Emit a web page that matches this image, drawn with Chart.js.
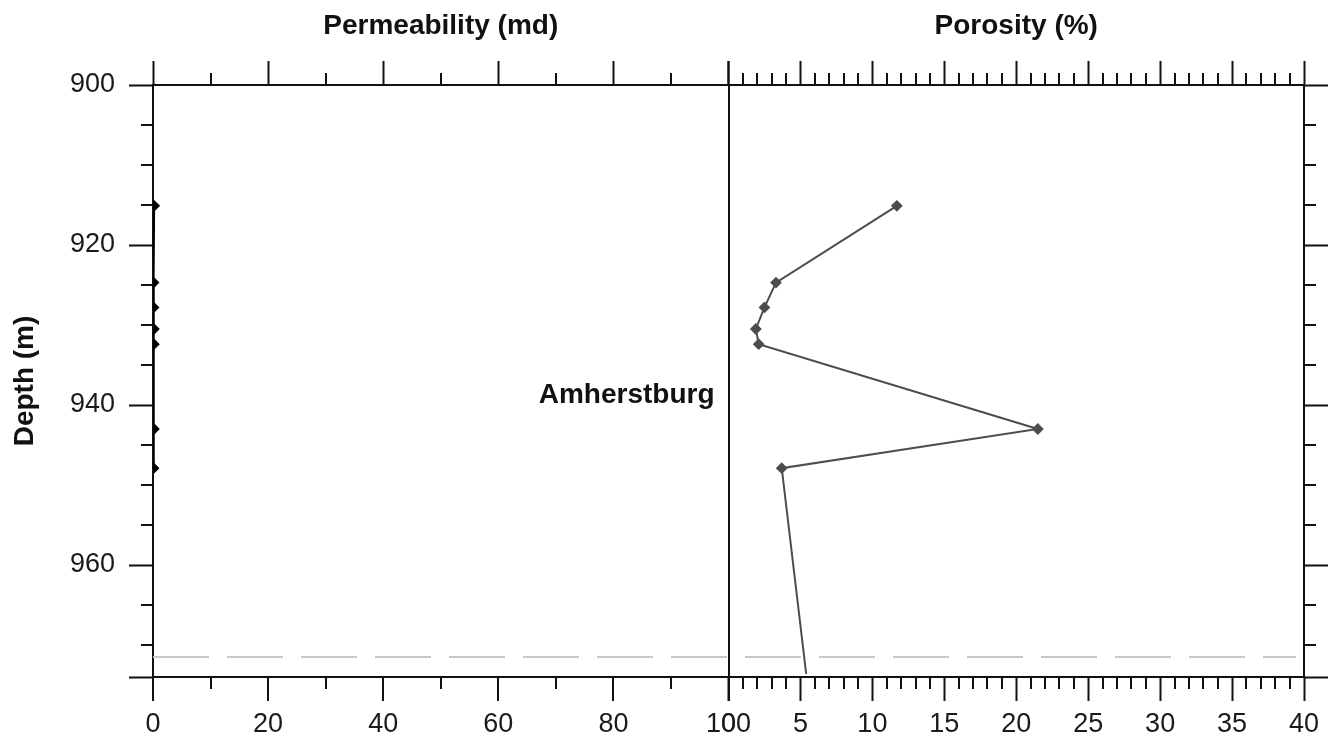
<!DOCTYPE html>
<html>
<head>
<meta charset="utf-8">
<script src="https://cdn.jsdelivr.net/npm/chart.js@4.4.1/dist/chart.umd.min.js"></script>
<style>
  html, body { margin: 0; padding: 0; background: #fff; }
  #wrap { width: 1337px; height: 749px; }
</style>
</head>
<body>
<div id="wrap"><canvas id="logChart"></canvas></div>
<script>
// core sample depths (m) and measured values
const depths = [915.1, 924.7, 927.8, 930.5, 932.4, 943.0, 947.9];
const permeability = [0.2, 0.1, 0.1, 0.15, 0.15, 0.15, 0.1];
const porosityDepths = [915.1, 924.7, 927.8, 930.5, 932.4, 943.0, 947.9, 973.6];
const porosity = [11.7, 3.3, 2.5, 1.9, 2.1, 21.5, 3.7, 5.4];

const depthRange = [900, 974];
const depthLabels = [900, 920, 940, 960];
const permRange = [0, 100];
const porRange = [0, 40];

const formationName = 'Amherstburg';
const formationDepth = 938.8;
const contactDepth = 971.5;

const FONT = "'Liberation Sans', Arial, sans-serif";
const INK = '#111';

// minor ticks: scale id, minor step, major step, side
const minorSpec = [
    ['y', 5, 20, 'left'],
    ['yRight', 5, 20, 'right'],
    ['xPerm', 10, 20, 'bottom'],
    ['xPermTop', 10, 20, 'top'],
    ['xPor', 1, 5, 'bottom'],
    ['xPorTop', 1, 5, 'top']
];

const minorTicks = {
    id: 'minorTicks',
    afterDraw(chart) {
        const ctx = chart.ctx;
        ctx.save();
        ctx.strokeStyle = INK;
        ctx.lineWidth = 2;
        for (const [id, step, major, side] of minorSpec) {
            const s = chart.scales[id];
            for (let v = s.min + step; v < s.max; v += step) {
                const r = v / major;
                if (Math.abs(r - Math.round(r)) < 1e-6) continue;
                const p = Math.round(s.getPixelForValue(v));
                ctx.beginPath();
                if (side === 'left') { ctx.moveTo(s.right, p); ctx.lineTo(s.right - 12, p); }
                if (side === 'right') { ctx.moveTo(s.left, p); ctx.lineTo(s.left + 12, p); }
                if (side === 'bottom') { ctx.moveTo(p, s.top); ctx.lineTo(p, s.top + 12); }
                if (side === 'top') { ctx.moveTo(p, s.bottom); ctx.lineTo(p, s.bottom - 12); }
                ctx.stroke();
            }
        }
        ctx.restore();
    }
};

const overlay = {
    id: 'overlay',
    beforeDatasetsDraw(chart) {
        const {ctx, chartArea} = chart;
        const y = Math.round(chart.scales.y.getPixelForValue(contactDepth));
        ctx.save();
        ctx.strokeStyle = '#c8c8c8';
        ctx.lineWidth = 2;
        ctx.setLineDash([56, 18]);
        ctx.beginPath();
        ctx.moveTo(chartArea.left, y);
        ctx.lineTo(chartArea.right - 8, y);
        ctx.stroke();
        ctx.restore();
    },
    afterDraw(chart) {
        const ctx = chart.ctx;
        ctx.save();
        ctx.font = 'bold 28px ' + FONT;
        ctx.fillStyle = INK;
        ctx.textAlign = 'right';
        ctx.textBaseline = 'middle';
        ctx.fillText(formationName, chart.scales.xPerm.right - 14, chart.scales.y.getPixelForValue(formationDepth));
        ctx.restore();
    }
};

const tickFont = { family: FONT, size: 27 };
const titleFont = { family: FONT, size: 28, weight: 'bold' };
const border = { color: INK, width: 2 };

function xAxis(pos, range, step, opts) {
    return Object.assign({
        type: 'linear', axis: 'x', position: pos, stack: pos,
        min: range[0], max: range[1],
        border: border,
        grid: { drawOnChartArea: false, tickLength: 24, tickColor: INK, tickWidth: 2 },
        ticks: { stepSize: step, display: pos === 'bottom', font: tickFont, color: '#1a1a1a',
                 padding: 7, autoSkip: false, maxRotation: 0 },
        afterFit: s => { s.height = pos === 'top' ? 85 : 72; }
    }, opts);
}

new Chart(document.getElementById('logChart'), {
    type: 'scatter',
    data: {
        datasets: [{
            label: 'Permeability',
            data: depths.map((d, i) => ({ x: permeability[i], y: d })),
            xAxisID: 'xPerm', yAxisID: 'y',
            showLine: true,
            borderColor: '#000', backgroundColor: '#000', borderWidth: 2,
            pointStyle: 'rectRot', pointRadius: 4.5, pointHoverRadius: 4.5
        }, {
            label: 'Porosity',
            data: porosityDepths.map((d, i) => ({ x: porosity[i], y: d })),
            xAxisID: 'xPor', yAxisID: 'y',
            showLine: true,
            borderColor: '#4d4d4d', backgroundColor: '#4d4d4d', borderWidth: 2,
            pointStyle: 'rectRot',
            pointRadius: porosity.map((_, i) => i === porosity.length - 1 ? 0 : 4.5),
            pointHoverRadius: 4.5
        }]
    },
    options: {
        responsive: true,
        maintainAspectRatio: false,
        animation: false,
        layout: { padding: 0 },
        plugins: { legend: { display: false }, tooltip: { enabled: false } },
        scales: {
            y: {
                type: 'linear', axis: 'y', position: 'left', reverse: true,
                min: depthRange[0], max: depthRange[1],
                border: border,
                grid: { drawOnChartArea: false, tickLength: 24, tickColor: INK, tickWidth: 2 },
                ticks: { stepSize: 20, font: tickFont, color: '#1a1a1a', padding: 14,
                         callback: v => depthLabels.includes(v) ? v : '' },
                title: { display: true, text: 'Depth (m)', font: titleFont, color: INK, padding: { top: 8 } },
                afterFit: s => { s.width = 153; }
            },
            yRight: {
                type: 'linear', axis: 'y', position: 'right', reverse: true,
                min: depthRange[0], max: depthRange[1],
                border: border,
                grid: { drawOnChartArea: false, tickLength: 24, tickColor: INK, tickWidth: 2 },
                ticks: { stepSize: 20, display: false },
                afterFit: s => { s.width = 33; }
            },
            xPerm: xAxis('bottom', permRange, 20, {
                weight: 1,
                grid: { drawOnChartArea: true, tickLength: 24, tickColor: INK, tickWidth: 2, lineWidth: 2,
                        color: c => c.tick && c.tick.value === permRange[1] ? INK : 'rgba(0,0,0,0)' }
            }),
            xPor: xAxis('bottom', porRange, 5, { weight: 2 }),
            xPermTop: xAxis('top', permRange, 20, {
                weight: 2,
                title: { display: true, text: 'Permeability (md)', font: titleFont, color: INK, padding: { top: 9 } }
            }),
            xPorTop: xAxis('top', porRange, 5, {
                weight: 1,
                title: { display: true, text: 'Porosity (%)', font: titleFont, color: INK, padding: { top: 9 } }
            })
        }
    },
    plugins: [minorTicks, overlay]
});
</script>
</body>
</html>
